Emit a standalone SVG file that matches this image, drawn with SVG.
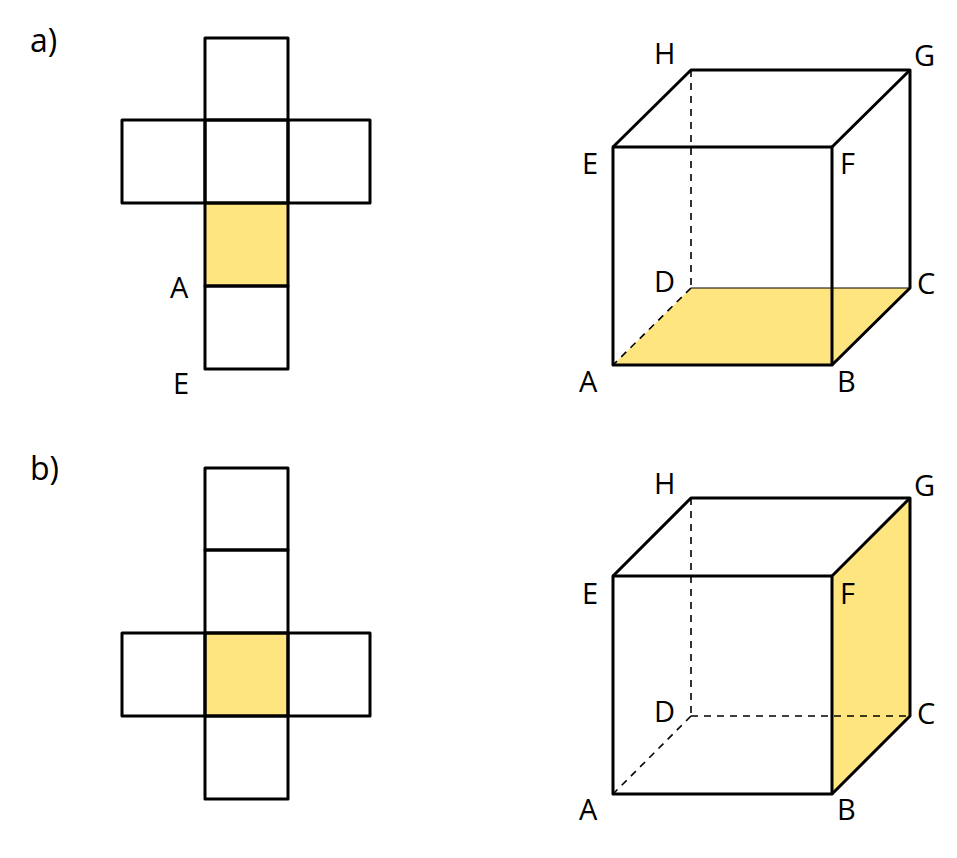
<svg xmlns="http://www.w3.org/2000/svg" width="957" height="858" viewBox="0 0 957 858">
<style>
.s{fill:none;stroke:#000;stroke-width:3;stroke-linejoin:round}
.y{fill:#FFE57F;stroke:none}
.d{fill:none;stroke:#000;stroke-width:1.6;stroke-dasharray:7 6}
text{font-family:"Open Sans","Liberation Sans",sans-serif;font-size:29px;fill:#000}
.t{font-size:32px}
</style>
<rect width="957" height="858" fill="#fff"/>
<text class="t" x="30" y="52">a)</text>
<text class="t" x="30" y="480">b)</text>
<g id="netA">
<rect class="y" x="205" y="203" width="83" height="83"/>
<rect class="s" x="205" y="38" width="83" height="82"/>
<rect class="s" x="122" y="120" width="83" height="83"/>
<rect class="s" x="205" y="120" width="83" height="83"/>
<rect class="s" x="288" y="120" width="82" height="83"/>
<rect class="s" x="205" y="203" width="83" height="83"/>
<rect class="s" x="205" y="286" width="83" height="83"/>
<text x="170" y="298">A</text>
<text x="173" y="394">E</text>
</g>
<g id="cubeA">
<polygon class="y" points="613,365 832,365 910,288 691,288"/>
<g class="d"><line x1="691" y1="70" x2="691" y2="288"/><line x1="691" y1="288" x2="613" y2="365"/></g>
<polygon class="s" points="613,147 832,147 832,365 613,365"/>
<polyline class="s" points="613,147 691,70 910,70 910,288 832,365"/>
<line class="s" x1="832" y1="147" x2="910" y2="70"/>
<line x1="691" y1="288" x2="910" y2="288" stroke="#000" stroke-width="1"/>
<text x="654" y="64">H</text><text x="914" y="66">G</text>
<text x="582" y="174">E</text><text x="840" y="174">F</text>
<text x="654" y="292">D</text><text x="917" y="294">C</text>
<text x="579" y="392">A</text><text x="837" y="392">B</text>
</g>
<g id="netB">
<rect class="y" x="205" y="633" width="83" height="83"/>
<rect class="s" x="205" y="468" width="83" height="82"/>
<rect class="s" x="205" y="550" width="83" height="83"/>
<rect class="s" x="122" y="633" width="83" height="83"/>
<rect class="s" x="205" y="633" width="83" height="83"/>
<rect class="s" x="288" y="633" width="82" height="83"/>
<rect class="s" x="205" y="716" width="83" height="83"/>
</g>
<g id="cubeB">
<polygon class="y" points="832,576 910,498 910,716 832,794"/>
<g class="d"><line x1="691" y1="498" x2="691" y2="716"/><line x1="691" y1="716" x2="613" y2="794"/><line x1="691" y1="716" x2="910" y2="716"/></g>
<polygon class="s" points="613,576 832,576 832,794 613,794"/>
<polyline class="s" points="613,576 691,498 910,498 910,716 832,794"/>
<line class="s" x1="832" y1="576" x2="910" y2="498"/>
<text x="654" y="494">H</text><text x="914" y="496">G</text>
<text x="582" y="604">E</text><text x="840" y="604">F</text>
<text x="654" y="722">D</text><text x="917" y="724">C</text>
<text x="579" y="820">A</text><text x="837" y="820">B</text>
</g>
</svg>
